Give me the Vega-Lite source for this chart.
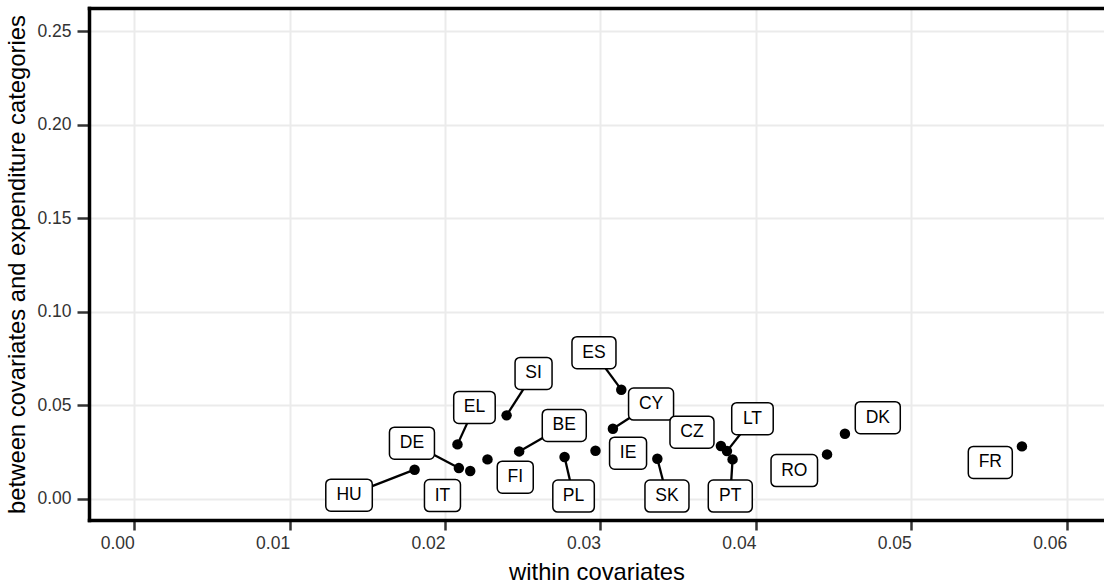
{
  "$schema": "https://vega.github.io/schema/vega-lite/v6.json",
  "width": 1015,
  "height": 512,
  "autosize": {"type": "none"},
  "padding": {"left": 89, "top": 8, "right": 0, "bottom": 65},
  "background": "white",
  "config": {
    "view": {"stroke": null},
    "axis": {
      "domainColor": "black",
      "domainWidth": 3.5,
      "domainCap": "square",
      "tickColor": "#333333",
      "tickWidth": 2.5,
      "labelFont": "Liberation Sans",
      "labelFontSize": 17.5,
      "labelColor": "#333333",
      "titleFont": "Liberation Sans",
      "titleFontSize": 23.8,
      "titleFontWeight": "normal",
      "titleColor": "black",
      "gridColor": "#EBEBEB",
      "gridWidth": 2,
      "labelOverlap": false,
      "labelFlush": false
    }
  },
  "resolve": {"axis": {"x": "independent", "y": "independent"}},
  "data": {
    "values": [
      {"label": "HU", "within": 0.01804, "between": 0.01551, "lx": 0.013822, "ly": 0.001872},
      {"label": "DE", "within": 0.02089, "between": 0.01636, "lx": 0.017870, "ly": 0.029679},
      {"label": "IT", "within": 0.02162, "between": 0.01476, "lx": 0.019833, "ly": 0.001658},
      {"label": "FI", "within": 0.02273, "between": 0.02102, "lx": 0.024517, "ly": 0.011497},
      {"label": "EL", "within": 0.02080, "between": 0.02904, "lx": 0.021892, "ly": 0.048824},
      {"label": "SI", "within": 0.02396, "between": 0.04455, "lx": 0.025695, "ly": 0.067005},
      {"label": "BE", "within": 0.02477, "between": 0.02529, "lx": 0.027671, "ly": 0.039198},
      {"label": "PL", "within": 0.02769, "between": 0.02225, "lx": 0.028269, "ly": 0.001390},
      {"label": "ES", "within": 0.03134, "between": 0.05829, "lx": 0.029582, "ly": 0.078075},
      {"label": "CY", "within": 0.03080, "between": 0.03743, "lx": 0.033256, "ly": 0.050588},
      {"label": "IE", "within": 0.02968, "between": 0.02567, "lx": 0.031776, "ly": 0.024332},
      {"label": "SK", "within": 0.03366, "between": 0.02139, "lx": 0.034279, "ly": 0.001390},
      {"label": "CZ", "within": 0.03775, "between": 0.02813, "lx": 0.035888, "ly": 0.035561},
      {"label": "LT", "within": 0.03814, "between": 0.02545, "lx": 0.039781, "ly": 0.042781},
      {"label": "PT", "within": 0.03850, "between": 0.02102, "lx": 0.038353, "ly": 0.001390},
      {"label": "RO", "within": 0.04458, "between": 0.02369, "lx": 0.042471, "ly": 0.015027},
      {"label": "DK", "within": 0.04573, "between": 0.03476, "lx": 0.047844, "ly": 0.043316},
      {"label": "FR", "within": 0.05712, "between": 0.02797, "lx": 0.055084, "ly": 0.019412}
    ]
  },
  "layer": [
    {
      "mark": {"type": "circle", "color": "black", "opacity": 1, "size": 110},
      "encoding": {
        "x": {"field": "within", "type": "quantitative", "scale": {"domain": [-0.00291, 0.0624], "nice": false, "zero": false},
          "axis": {"orient": "bottom", "title": "within covariates", "values": [0, 0.01, 0.02, 0.03, 0.04, 0.05, 0.06], "format": ".2f", "grid": true, "tickSize": 10, "labelAlign": "right", "labelPadding": 4, "titlePadding": 9}},
        "y": {"field": "between", "type": "quantitative", "scale": {"domain": [-0.0114, 0.2624], "nice": false, "zero": false},
          "axis": {"orient": "left", "title": "between covariates and expenditure categories", "values": [0, 0.05, 0.1, 0.15, 0.2, 0.25], "format": ".2f", "grid": true, "tickSize": 12, "labelPadding": 6, "titlePadding": 7}}
      }
    },
    {
      "transform": [{"filter": {"field": "label", "oneOf": ["HU", "DE", "EL", "SI", "BE", "PL", "ES", "CY", "SK", "LT", "PT"]}}],
      "mark": {"type": "rule", "color": "black", "strokeWidth": 2.3},
      "encoding": {
        "x": {"field": "within", "type": "quantitative", "scale": {"domain": [-0.00291, 0.0624], "nice": false, "zero": false}, "axis": null},
        "y": {"field": "between", "type": "quantitative", "scale": {"domain": [-0.0114, 0.2624], "nice": false, "zero": false}, "axis": null},
        "x2": {"field": "lx"},
        "y2": {"field": "ly"}
      }
    },
    {
      "mark": {"type": "rect", "fill": "white", "stroke": "black", "strokeWidth": 1.5, "cornerRadius": 5, "height": 32,
        "width": {"expr": "indexof(['IT','FI'],datum.label)>=0?36:indexof(['SI','IE'],datum.label)>=0?37:indexof(['EL','PL','LT'],datum.label)>=0?41.5:indexof(['BE','ES','SK','CZ','FR','PT'],datum.label)>=0?44:indexof(['DE','CY','DK'],datum.label)>=0?45:46.5"}},
      "encoding": {
        "x": {"field": "lx", "type": "quantitative", "scale": {"domain": [-0.00291, 0.0624], "nice": false, "zero": false},
          "axis": {"orient": "top", "title": null, "labels": false, "ticks": false, "grid": false, "domain": true}},
        "y": {"field": "ly", "type": "quantitative", "scale": {"domain": [-0.0114, 0.2624], "nice": false, "zero": false}, "axis": null}
      }
    },
    {
      "mark": {"type": "text", "font": "Liberation Sans", "fontSize": 17.5, "color": "black", "align": "center", "baseline": "middle"},
      "encoding": {
        "x": {"field": "lx", "type": "quantitative", "scale": {"domain": [-0.00291, 0.0624], "nice": false, "zero": false}, "axis": null},
        "y": {"field": "ly", "type": "quantitative", "scale": {"domain": [-0.0114, 0.2624], "nice": false, "zero": false}, "axis": null},
        "text": {"field": "label"}
      }
    }
  ]
}
